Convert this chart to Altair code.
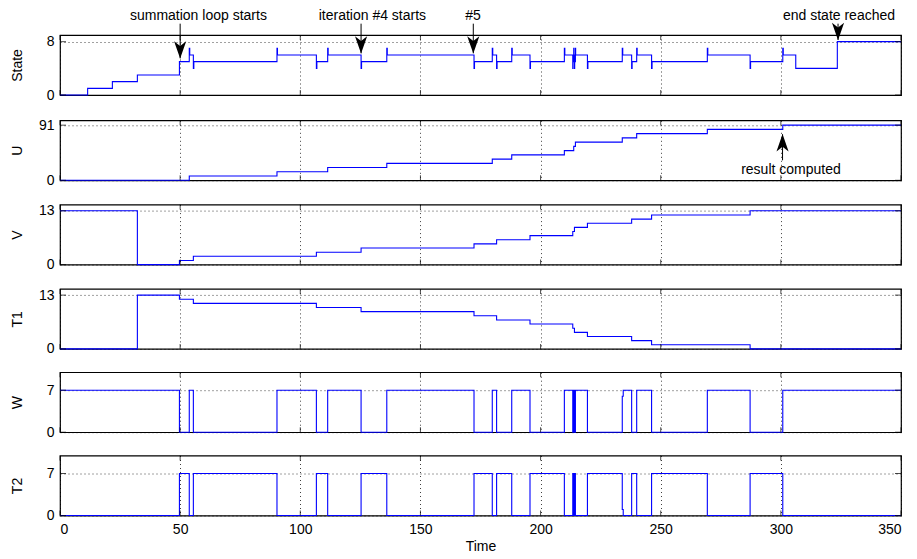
import altair as alt
import pandas as pd

# ---------------- data ----------------
state_time = [0, 11.5, 21.8, 32.2, 49.7,
              53.8, 54.0, 55.5, 55.7,
              90.3, 90.5, 106.7, 106.9,
              111.4, 111.6, 125.3, 125.5,
              136.0, 136.2, 172.3, 172.5,
              179.9, 180.1, 181.7, 181.9,
              188.0, 188.2, 195.6, 195.8,
              209.9, 210.1, 213.4, 213.5,
              213.8, 213.9, 214.1, 214.2,
              214.5, 214.6, 219.5, 219.7,
              234.0, 234.2, 237.9, 238.1,
              240.0, 240.2, 246.2, 246.4,
              269.4, 269.6, 287.2, 287.4,
              300.8, 301.0, 306.2, 323.5, 350]
state_value = [0, 1, 2, 3, 5,
               7, 6, 4, 5,
               7, 6, 4, 5,
               7, 6, 4, 5,
               7, 6, 4, 5,
               7, 6, 4, 5,
               7, 6, 4, 5,
               7, 6, 4, 5,
               7, 6, 4, 5,
               7, 6, 4, 5,
               7, 6, 4, 5,
               7, 6, 4, 5,
               7, 6, 4, 5,
               7, 6, 4, 8, 8]

u_time = [0, 53.8, 90.3, 111.4, 136.0, 179.9, 188.0, 209.9, 213.8, 214.5,
          234.0, 240.0, 269.4, 300.8, 350]
u_value = [0, 7, 14, 21, 28, 35, 42, 49, 56, 63, 70, 77, 84, 91, 91]

v_time = [0, 32.2, 49.7, 55.5, 106.7, 125.3, 172.3, 181.7, 195.6, 213.4,
          214.1, 219.5, 237.9, 246.2, 287.2, 350]
v_value = [13, 0, 1, 2, 3, 4, 5, 6, 7, 8, 9, 10, 11, 12, 13, 13]

t1_time = [0, 32.2, 49.7, 55.5, 106.7, 125.3, 172.3, 181.7, 195.6, 213.4,
           214.1, 219.5, 237.9, 246.2, 287.2, 350]
t1_value = [0, 13, 12, 11, 10, 9, 8, 7, 6, 5, 4, 3, 2, 1, 0, 0]

w_time = [0, 49.7, 53.8, 55.5, 90.3, 106.7, 111.4, 125.3, 136.0, 172.3,
          179.9, 181.7, 188.0, 195.6, 209.9, 213.4, 213.8, 214.1, 214.5,
          219.5, 234.0, 234.4, 237.9, 240.0, 246.2, 269.4, 287.2, 300.8, 350]
w_value = [7, 0, 7, 0, 7, 0, 7, 0, 7, 0,
           7, 0, 7, 0, 7, 0, 7, 0, 7,
           0, 6, 7, 0, 7, 0, 7, 0, 7, 7]

t2_time = [0, 49.7, 53.8, 55.5, 90.3, 106.7, 111.4, 125.3, 136.0, 172.3,
           179.9, 181.7, 188.0, 195.6, 209.9, 213.4, 213.8, 214.1, 214.5,
           219.5, 234.0, 234.4, 237.9, 240.0, 246.2, 269.4, 287.2, 300.8, 350]
t2_value = [0, 7, 0, 7, 0, 7, 0, 7, 0, 7,
            0, 7, 0, 7, 0, 7, 0, 7, 0,
            7, 1, 0, 7, 0, 7, 0, 7, 0, 0]

x_ticks = [0, 50, 100, 150, 200, 250, 300, 350]

# annotations (data coordinates)
ann_state_text = ["summation loop starts", "iteration #4 starts", "#5", "end state reached"]
ann_state_text_t = [57.6, 130.0, 171.9, 324.2]
ann_state_text_v = [11.8, 11.8, 11.8, 11.8]
ann_state_arrow_t = [50.0, 125.3, 172.0, 323.8]
ann_state_arrow_tail = [10.7, 10.7, 10.7, 10.7]
ann_state_arrow_tip = [5.5, 6.25, 6.25, 8.25]

ann_u_text = ["result computed"]
ann_u_text_t = [304.2]
ann_u_text_v = [16.5]
ann_u_arrow_t = [300.7]
ann_u_arrow_tail = [33.0]
ann_u_arrow_tip = [76.0]

# ---------------- styling ----------------
FONT = "Liberation Sans"
PW, PH = 841, 60
BLUE = "#0000ff"
DOWN_HEAD = "M0,1L-0.7,-1L0,-0.45L0.7,-1Z"
UP_HEAD = "M0,-1L-0.7,1L0,0.45L0.7,1Z"


def panel(times, values, title, ymax, ydom, last=False, ann=None):
    df = pd.DataFrame({"t": times, "v": values})
    xs = alt.Scale(domain=[0, 350], nice=False, zero=False)
    ys = alt.Scale(domain=ydom, nice=False, zero=False)
    xaxis_kw = dict(values=x_ticks, grid=True, gridDash=[1, 3], gridColor="#000",
                    gridOpacity=0.75, ticks=False, domain=False)
    if last:
        xaxis = alt.Axis(labels=True, title="Time", labelFontSize=14, labelPadding=7,
                         titleFontSize=14, titlePadding=3, **xaxis_kw)
    else:
        xaxis = alt.Axis(labels=False, title=None, minExtent=0, maxExtent=0,
                         **xaxis_kw)
    yaxis = alt.Axis(values=[0, ymax], grid=True, gridDash=[1, 3], gridColor="#000",
                     gridOpacity=0.75, ticks=False, domain=False, labelFontSize=14,
                     labelPadding=6, title=title, titleFontSize=14, titleX=-36,
                     titleY=PH / 2, titleBaseline="bottom", titleAlign="center")

    def X():
        return alt.X("t:Q", scale=xs, axis=xaxis)

    def Y():
        return alt.Y("v:Q", scale=ys, axis=yaxis)

    line = alt.Chart(df).mark_line(interpolate="step-after", color=BLUE,
                                   strokeWidth=1.1).encode(x=X(), y=Y())

    xt = pd.DataFrame({"t": x_ticks})
    yt = pd.DataFrame({"v": [0, ymax]})
    tick_top = alt.Chart(xt).mark_tick(size=5, thickness=1, color="black").encode(
        x=X(), y=alt.value(2.5))
    tick_bot = alt.Chart(xt).mark_tick(size=5, thickness=1, color="black").encode(
        x=X(), y=alt.value(PH - 2.5))
    tick_l = alt.Chart(yt).mark_tick(size=6, thickness=1, color="black").encode(
        y=Y(), x=alt.value(3))
    tick_r = alt.Chart(yt).mark_tick(size=6, thickness=1, color="black").encode(
        y=Y(), x=alt.value(PW - 3))

    layers = [line, tick_top, tick_bot, tick_l, tick_r]

    if ann is not None:
        labels, lt, lv, at, atail, atip, head, off, tbase = ann
        tdf = pd.DataFrame({"t": lt, "v": lv, "label": labels})
        adf = pd.DataFrame({"t": at, "v": atail, "v2": atip})
        hdf = pd.DataFrame({"t": at, "v": atip})
        layers.append(alt.Chart(tdf).mark_text(font=FONT, fontSize=14, color="black",
                                               baseline=tbase, align="center").encode(
            x=X(), y=Y(), text="label:N"))
        layers.append(alt.Chart(adf).mark_rule(color="black", strokeWidth=1).encode(
            x=X(), y=Y(), y2="v2:Q"))
        layers.append(alt.Chart(hdf).mark_point(shape=head, size=300, filled=True,
                                                color="black", opacity=1,
                                                strokeWidth=0, yOffset=off).encode(
            x=X(), y=Y()))

    return alt.layer(*layers).properties(width=PW, height=PH)


p_state = panel(state_time, state_value, "State", 8, [0, 9],
                ann=(ann_state_text, ann_state_text_t, ann_state_text_v,
                     ann_state_arrow_t, ann_state_arrow_tail, ann_state_arrow_tip,
                     DOWN_HEAD, -8.5, "middle"))
p_u = panel(u_time, u_value, "U", 91, [0, 99],
            ann=(ann_u_text, ann_u_text_t, ann_u_text_v,
                 ann_u_arrow_t, ann_u_arrow_tail, ann_u_arrow_tip,
                 UP_HEAD, 8.5, "middle"))
p_v = panel(v_time, v_value, "V", 13, [0, 14.5])
p_t1 = panel(t1_time, t1_value, "T1", 13, [0, 14.5])
p_w = panel(w_time, w_value, "W", 7, [0, 10])
p_t2 = panel(t2_time, t2_value, "T2", 7, [0, 10], last=True)

chart = alt.vconcat(p_state, p_u, p_v, p_t1, p_w, p_t2, spacing=14.3).properties(
    padding={"left": 1, "right": 5, "top": 0, "bottom": 0}
).configure_view(stroke="black", strokeWidth=1.2).configure_axis(
    labelFont=FONT, titleFont=FONT, labelColor="black", titleColor="black",
    titleFontWeight="normal"
)

chart.save("out.html", embed_options={"renderer": "svg", "actions": False})
